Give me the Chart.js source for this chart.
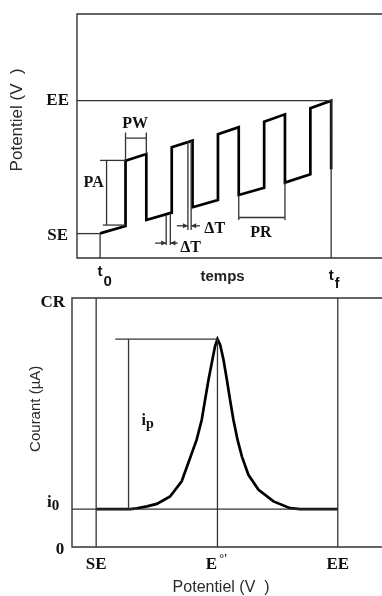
<!DOCTYPE html>
<html>
<head>
<meta charset="utf-8">
<script src="https://cdn.jsdelivr.net/npm/chart.js@4.4.1/dist/chart.umd.min.js"></script>
<style>
  html, body { margin: 0; padding: 0; background: #fff; }
  #wrap { position: relative; width: 382px; height: 596px; overflow: hidden; }
  #waveChart { position: absolute; left: 0; top: 0; }
  #peakChart { position: absolute; left: 0; top: 290px; }
</style>
</head>
<body>
<div id="wrap">
  <canvas id="waveChart" width="382" height="296" style="width:382px;height:296px"></canvas>
  <canvas id="peakChart" width="382" height="306" style="width:382px;height:306px"></canvas>
</div>
<script>
// ---- top panel : potential vs time (pulse waveform) ----
const timeRange = [-5, 61];
const potRange = [0, 100];
const timeTicks = [0, 50];            // t0, tf
const timeTickSubs = ['0', 'f'];
const potTicks = [10, 64.5];          // SE, EE
const potTickLabels = ['SE', 'EE'];

const waveTime = [0, 5.5, 5.5, 10, 10, 15.5, 15.5, 20, 20, 25.5, 25.5, 30, 30, 35.5, 35.5, 40, 40, 45.5, 45.5, 50, 50];
const wavePot = [10.1, 13.1, 39.9, 42.6, 15.6, 18.6, 45.4, 48.1, 20.8, 23.8, 50.7, 53.6, 25.8, 28.8, 55.9, 58.9, 30.9, 34.3, 61.4, 64.5, 36.4];

// guide lines of the top panel, [time, potential]
const eeGuide = [[-5, 64.5], [50, 64.5]];
const seGuide = [[-5, 10], [0, 10]];
const t0Guide = [[0, 0], [0, 10]];
const tfGuide = [[50, 0], [50, 64.5]];
const pwGuide = [[5.5, 39.9], [5.5, 51.4], [5.5, 49.1], [10, 49.1], [10, 51.4], [10, 42.6]];
const paTop = [[0, 40], [5.5, 40]];
const paBar = [[1.4, 40], [1.4, 13.5]];
const paBottom = [[0.6, 13.5], [5.5, 13.5]];
const dtLowLeft = [[14.3, 17.6], [14.3, 5.3]];
const dtLowRight = [[15.2, 18.4], [15.2, 5.3]];
const dtUpLeft = [[19.0, 48.0], [19.0, 11.5]];
const dtUpRight = [[19.7, 48.0], [19.7, 11.5]];
const prGuide = [[30, 25.8], [30, 15.6], [30, 16.6], [40, 16.6], [40, 15.6], [40, 30.9]];
const dtArrows = [
  [[11.9, 6.1], [14.3, 6.1]],
  [[16.8, 6.1], [15.2, 6.1]],
  [[16.6, 13.2], [19.0, 13.2]],
  [[21.6, 13.2], [19.7, 13.2]]
];

// ---- bottom panel : current vs potential (peak) ----
const potRange2 = [-10, 118.3];
const curRange = [0, 100];
const potTicks2 = [0, 50.2, 100];     // SE, E°', EE
const curTicks = [0, 15.2, 100];      // 0, i0, CR
const peakCur = 83.5;

const curvePot = [0, 14.1, 16.8, 21.0, 25.1, 30.6, 35.4, 39.6, 41.6, 43.7, 45.1, 46.5, 48.1, 49.2, 50.2,
  51.3, 52.7, 54.1, 55.4, 56.8, 58.5, 60.3, 63.0, 67.2, 73.4, 80.3, 84.4, 100];
const curveCur = [15.2, 15.2, 15.5, 16.3, 17.3, 20.3, 26.4, 37.7, 43.1, 51.1, 59.2, 67.2, 75.2, 80.6, 83.5,
  81.2, 75.2, 67.2, 59.2, 51.1, 43.1, 36.4, 29.0, 23.0, 18.3, 15.6, 15.2, 15.2];

const seGuide2 = [[0, 0], [0, 100]];
const eeGuide2 = [[100, 0], [100, 100]];
const e0Guide = [[50.2, 0], [50.2, peakCur]];
const i0Guide = [[-10, 15.2], [100, 15.2]];
const peakGuide = [[7.9, peakCur], [50.2, peakCur]];
const ipGuide = [[13.4, 15.2], [13.4, peakCur]];

const SERIF = 'bold 16px "Liberation Serif"';
const SERIF_L = 'bold 17px "Liberation Serif"';
const SANS = '"Liberation Sans", Arial, sans-serif';
const INK = '#111';
const GUIDE = '#333';

function pts(xs, ys) {
  return xs.map((x, i) => ({ x, y: ys[i] }));
}

function guideSet(points, width) {
  return {
    data: points.map(([x, y]) => ({ x, y })),
    showLine: true,
    borderColor: GUIDE,
    borderWidth: width || 1.3,
    pointRadius: 0,
    tension: 0,
    fill: false,
    clip: false
  };
}

function frame() {
  return {
    id: 'frame',
    beforeDatasetsDraw(chart) {
      const { ctx, chartArea: a } = chart;
      ctx.save();
      ctx.strokeStyle = GUIDE;
      ctx.lineWidth = 1.4;
      ctx.beginPath();
      ctx.moveTo(a.right, a.top);
      ctx.lineTo(a.left, a.top);
      ctx.lineTo(a.left, a.bottom);
      ctx.lineTo(a.right, a.bottom);
      ctx.stroke();
      ctx.restore();
    }
  };
}

function arrowHeads(arrows) {
  return {
    id: 'arrowHeads',
    afterDatasetsDraw(chart) {
      const { ctx, scales: { x, y } } = chart;
      ctx.save();
      ctx.fillStyle = GUIDE;
      arrows.forEach(([tail, tip]) => {
        const tx = x.getPixelForValue(tip[0]);
        const ty = y.getPixelForValue(tip[1]);
        const dir = tip[0] > tail[0] ? 1 : -1;
        ctx.beginPath();
        ctx.moveTo(tx, ty);
        ctx.lineTo(tx - dir * 5, ty - 2.5);
        ctx.lineTo(tx - dir * 5, ty + 2.5);
        ctx.closePath();
        ctx.fill();
      });
      ctx.restore();
    }
  };
}

function textLayer(items) {
  return {
    id: 'textLayer',
    afterDraw(chart) {
      const { ctx, scales: { x, y } } = chart;
      ctx.save();
      items.forEach(it => {
        const px = x.getPixelForValue(it.x) + (it.dx || 0);
        const py = y.getPixelForValue(it.y) + (it.dy || 0);
        ctx.fillStyle = it.color || INK;
        ctx.font = it.font;
        if (it.rot) {
          ctx.save();
          ctx.translate(px, py);
          ctx.rotate(it.rot);
          ctx.textAlign = 'center';
          ctx.textBaseline = 'middle';
          ctx.fillText(it.text, 0, 0);
          ctx.restore();
          return;
        }
        ctx.textBaseline = 'alphabetic';
        ctx.textAlign = it.align || 'center';
        ctx.fillText(it.text, px, py);
        if (it.small) {
          const w = ctx.measureText(it.text).width;
          const right = it.align === 'left' ? px + w : it.align === 'right' ? px : px + w / 2;
          ctx.font = it.smallFont;
          ctx.textAlign = 'left';
          ctx.fillText(it.small, right + (it.gap || 0), py + it.shift);
        }
      });
      ctx.restore();
    }
  };
}

function baseOptions(xr, yr, padding) {
  return {
    responsive: false,
    animation: false,
    events: [],
    layout: { padding },
    plugins: { legend: { display: false }, tooltip: { enabled: false } },
    scales: {
      x: { type: 'linear', display: false, min: xr[0], max: xr[1] },
      y: { type: 'linear', display: false, min: yr[0], max: yr[1] }
    }
  };
}

// top chart
const waveTexts = [
  { text: potTickLabels[0], x: timeRange[0], y: potTicks[0], dx: -9, dy: 6, align: 'right', font: SERIF_L },
  { text: potTickLabels[1], x: timeRange[0], y: potTicks[1], dx: -8, dy: 4, align: 'right', font: SERIF_L },
  { text: 't', small: timeTickSubs[0], x: timeTicks[0], y: 0, dy: 18, font: 'bold 15px ' + SANS, smallFont: 'bold 15px ' + SANS, shift: 10, gap: 1 },
  { text: 't', small: timeTickSubs[1], x: timeTicks[1], y: 0, dy: 22, font: 'bold 15px ' + SANS, smallFont: 'bold 14px ' + SANS, shift: 8, gap: 1 },
  { text: 'temps', x: 26.5, y: 0, dy: 23, font: 'bold 15px ' + SANS, color: '#222' },
  { text: 'Potentiel (V  )', x: -18, y: 56.6, rot: -Math.PI / 2, font: '17px ' + SANS, color: '#2a2a2a' },
  { text: 'PW', x: 7.6, y: 53.4, font: SERIF },
  { text: 'PA', x: -1.4, y: 29.2, font: SERIF },
  { text: 'ΔT', x: 19.6, y: 2.3, font: SERIF },
  { text: 'ΔT', x: 24.8, y: 10.4, font: SERIF },
  { text: 'PR', x: 34.8, y: 8.7, font: SERIF }
];

const waveGuides = [eeGuide, seGuide, t0Guide, tfGuide, pwGuide, paTop, paBar, paBottom,
  dtLowLeft, dtLowRight, dtUpLeft, dtUpRight, prGuide].concat(dtArrows);

new Chart(document.getElementById('waveChart'), {
  type: 'scatter',
  data: {
    datasets: waveGuides.map(g => guideSet(g)).concat([{
      data: pts(waveTime, wavePot),
      showLine: true,
      borderColor: '#000',
      borderWidth: 2.7,
      pointRadius: 0,
      tension: 0,
      clip: false
    }])
  },
  options: baseOptions(timeRange, potRange, { left: 77, top: 14, right: 0, bottom: 38 }),
  plugins: [frame(), arrowHeads(dtArrows), textLayer(waveTexts)]
});

// bottom chart
const peakTexts = [
  { text: 'CR', x: potRange2[0], y: curTicks[2], dx: -7, dy: 9, align: 'right', font: SERIF_L },
  { text: 'i', small: '0', x: potRange2[0], y: curTicks[1], dx: -25, dy: -2, align: 'left', font: SERIF_L, smallFont: 'bold 15px "Liberation Serif"', shift: 3, gap: 0 },
  { text: '0', x: potRange2[0], y: curTicks[0], dx: -12, dy: 7, font: SERIF_L },
  { text: 'SE', x: potTicks2[0], y: 0, dy: 22, font: SERIF_L },
  { text: 'E', small: '°\'', x: potTicks2[1], y: 0, dx: -6, dy: 22, font: SERIF_L, smallFont: 'bold 12px "Liberation Serif"', shift: -7, gap: 2 },
  { text: 'EE', x: potTicks2[2], y: 0, dy: 22, font: SERIF_L },
  { text: 'Potentiel (V  )', x: 51.7, y: 0, dy: 45, font: '16px ' + SANS, color: '#2a2a2a' },
  { text: 'Courant (µA)', x: -24.9, y: 55.5, rot: -Math.PI / 2, font: '15px ' + SANS, color: '#2a2a2a' },
  { text: 'i', small: 'p', x: 18.8, y: 49.1, align: 'left', font: SERIF, smallFont: 'bold 14px "Liberation Serif"', shift: 3.5, gap: 0 }
];

const peakGuides = [seGuide2, eeGuide2, e0Guide, i0Guide, peakGuide, ipGuide];

new Chart(document.getElementById('peakChart'), {
  type: 'scatter',
  data: {
    datasets: peakGuides.map(g => guideSet(g)).concat([{
      data: pts(curvePot, curveCur),
      showLine: true,
      borderColor: '#000',
      borderWidth: 2.7,
      pointRadius: 0,
      tension: 0,
      clip: false
    }])
  },
  options: baseOptions(potRange2, curRange, { left: 72, top: 8, right: 0, bottom: 49 }),
  plugins: [frame(), textLayer(peakTexts)]
});
</script>
</body>
</html>
